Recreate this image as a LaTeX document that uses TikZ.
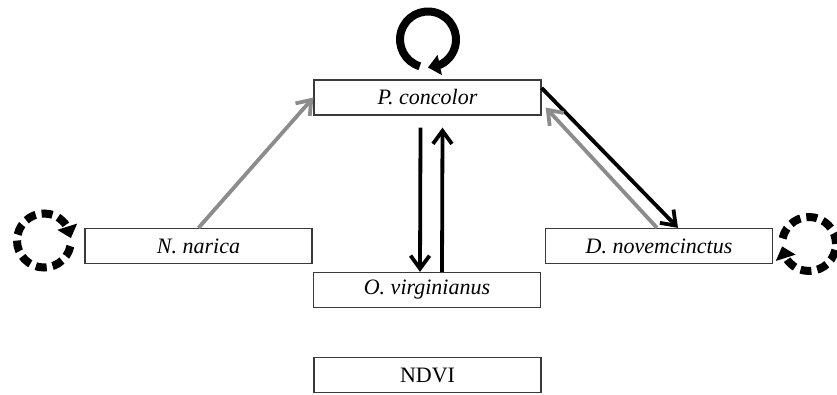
\documentclass[tikz,border=0pt]{standalone}
\usepackage{fontspec}
\setmainfont{Liberation Serif}
\usetikzlibrary{arrows.meta,bending}
\definecolor{boxline}{HTML}{3A3A3A}
\definecolor{grayarrow}{HTML}{8C8C8C}
\begin{document}
\begin{tikzpicture}[x=1pt,y=1pt,
  sbox/.style={draw=boxline,line width=1.3pt,minimum width=227pt,minimum height=35pt,inner sep=0pt,font=\fontsize{22}{26}\selectfont},
  blk/.style={line width=3.8pt,draw=black,-{Straight Barb[length=13pt,width=19pt]}},
  gry/.style={line width=3.8pt,draw=grayarrow,-{Straight Barb[length=13pt,width=19pt]}},
  loopsolid/.style={line width=8pt,-{Triangle[flex,length=12pt,width=20pt]}},
  loopdash/.style={line width=8pt,dash pattern=on 11pt off 6pt,-{Triangle[flex,length=12pt,width=20pt]}}]
\useasboundingbox (0,0) rectangle (837,394);
\clip (0,0) rectangle (837,394);
\node[sbox] (P) at (427.5,296.5) {\itshape P. concolor};
\node[sbox] (O) at (427,104) {\itshape O. virginianus};
\node[sbox] (N) at (198.5,148) {\itshape N. narica};
\node[sbox] (D) at (659,148) {\itshape D. novemcinctus};
\node[sbox] (V) at (427.5,19) {NDVI};
% vertical arrows
\draw[blk] ([xshift=-7pt,yshift=-12pt]P.south) -- ([xshift=-7pt]O.north);
\draw[blk] ([xshift=15pt]O.north) -- ([xshift=15pt,yshift=-12pt]P.south);
% N -> P
\draw[gry] (N.north) -- (P.west);
% P -> D and D -> P
\draw[blk] ([yshift=9.5pt]P.east) -- ([xshift=19pt]D.north);
\draw[gry] ([xshift=-2pt]D.north) -- ([xshift=4pt,yshift=-10pt]P.east);
% self loops
\coordinate (cP) at (428,354.5);
\coordinate (cN) at (44,153.5);
\coordinate (cD) at (809,150);
\draw[loopsolid] ([shift={(253:28)}]cP) arc[start angle=253,end angle=-90,radius=28];
\draw[loopdash] ([shift={(348:27)}]cN) arc[start angle=348,end angle=5,radius=27];
\draw[loopdash] ([shift={(168:27)}]cD) arc[start angle=168,end angle=-175,radius=27];
\end{tikzpicture}
\end{document}
